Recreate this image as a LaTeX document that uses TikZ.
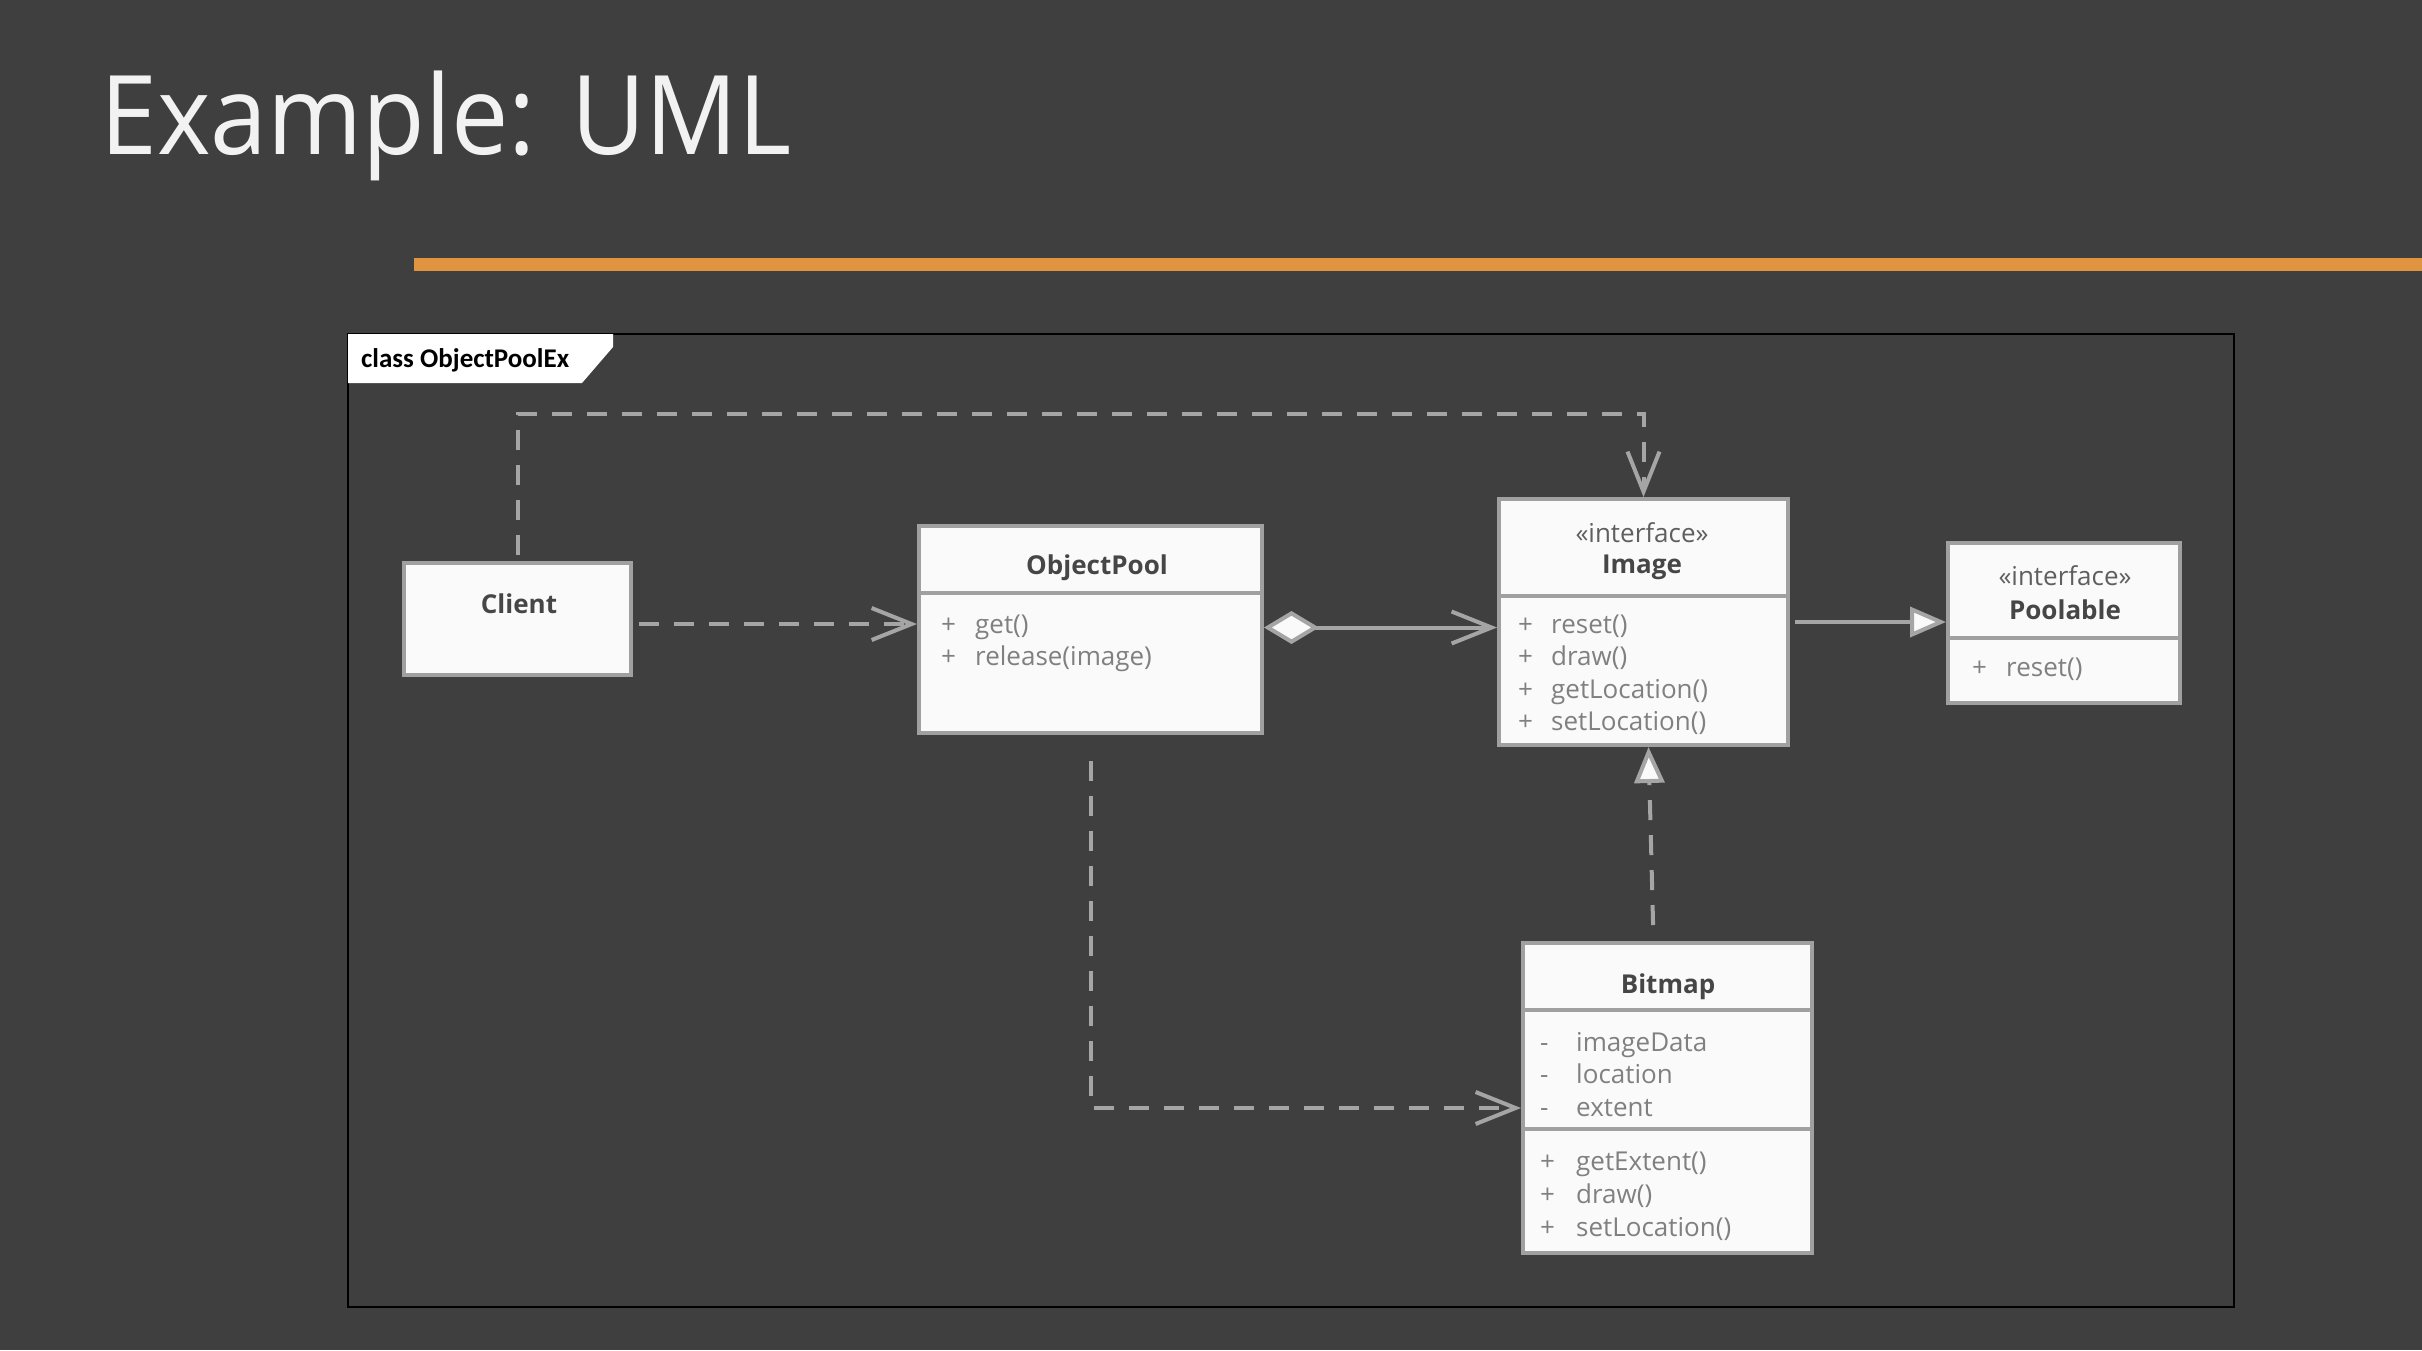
\documentclass[tikz,border=0pt]{standalone}
\usepackage{fontspec}
\setmainfont{Open Sans}
\newfontfamily\tabfont{Carlito}
\newfontfamily\titlefont[FakeStretch=0.93]{Open Sans}
\usetikzlibrary{arrows.meta}
\definecolor{slidebg}{RGB}{63,63,63}
\definecolor{accent}{RGB}{224,148,64}
\definecolor{boxfill}{RGB}{250,250,250}
\definecolor{boxline}{RGB}{160,160,160}
\definecolor{connline}{RGB}{165,165,165}
\definecolor{nametext}{RGB}{70,70,70}
\definecolor{stereotext}{RGB}{95,95,95}
\definecolor{membertext}{RGB}{128,128,128}
\tikzset{
  classbox/.style={draw=boxline, fill=boxfill, line width=4pt, inner sep=0pt, anchor=north west},
  divider/.style={draw=boxline, line width=4pt},
  classname/.style={font=\bfseries\fontsize{26}{30}\selectfont, text=nametext, inner sep=0pt},
  stereo/.style={font=\fontsize{26}{30}\selectfont, text=stereotext, inner sep=0pt},
  member/.style={font=\fontsize{26}{30}\selectfont, text=membertext, inner sep=0pt, anchor=west, text height=20pt, text depth=6pt},
  conn/.style={draw=connline, line width=4pt},
  dep/.style={conn, dash pattern=on 20pt off 15pt, -{Straight Barb[length=40pt,width=32pt]}},
  realize/.style={conn, dash pattern=on 20pt off 15pt, -{Triangle[length=36pt,width=30pt,fill=boxfill]}},
  general/.style={conn, -{Triangle[length=36pt,width=30pt,fill=boxfill]}},
  aggreg/.style={conn, {Diamond[length=55pt,width=33pt,fill=boxfill]}-{Straight Barb[length=40pt,width=32pt]}}
}
\begin{document}
\begin{tikzpicture}[x=1pt,y=-1pt]
	\useasboundingbox (0,0) rectangle (2422,1350);
	\fill[slidebg] (0,0) rectangle (2422,1350);
	% title and accent bar
	\node[anchor=base west, inner sep=0pt, text=white!95!black, font=\titlefont\fontsize{110}{130}\selectfont] (title) at (100,154) {Example: UML};
	\fill[accent] (414,258) rectangle (2422,271);
	% diagram frame
	\draw[black, line width=2pt] (348,334) rectangle (2234,1307);
	\fill[white] (348,334) -- (613,334) -- (613,347) -- (582,383) -- (348,383) -- cycle;
	\node[anchor=west, inner sep=0pt, font=\tabfont\bfseries\fontsize{27}{30}\selectfont] (tab) at (361,360) {class ObjectPoolEx};
	% Client
	\node[classbox, minimum width=227pt, minimum height=112pt] (client) at (402,561) {};
	\node[classname] at (519,604) {Client};
	% ObjectPool
	\node[classbox, minimum width=343pt, minimum height=207pt] (objpool) at (917,524) {};
	\draw[divider] (objpool.west |- 0,593) -- (objpool.east |- 0,593);
	\node[classname] at (1097,568) {ObjectPool};
	\foreach \txt [count=\i from 0] in {get(),release(image)} {
		\node[member] at (941,{626+32*\i}) {+};
		\node[member] at (975,{626+32*\i}) {\txt};
	}
	% Image
	\node[classbox, minimum width=289pt, minimum height=246pt] (image) at (1497,497) {};
	\draw[divider] (image.west |- 0,596) -- (image.east |- 0,596);
	\node[stereo] at (1642,533) {«interface»};
	\node[classname] at (1642,567) {Image};
	\foreach \txt [count=\i from 0] in {reset(),draw(),getLocation(),setLocation()} {
		\node[member] at (1518,{626+32.6*\i}) {+};
		\node[member] at (1551,{626+32.6*\i}) {\txt};
	}
	% Poolable
	\node[classbox, minimum width=232pt, minimum height=160pt] (poolable) at (1946,541) {};
	\draw[divider] (poolable.west |- 0,638) -- (poolable.east |- 0,638);
	\node[stereo] at (2065,576) {«interface»};
	\node[classname] at (2065,610) {Poolable};
	\node[member] at (1972,669) {+};
	\node[member] at (2006,669) {reset()};
	% Bitmap
	\node[classbox, minimum width=289pt, minimum height=310pt] (bitmap) at (1521,941) {};
	\draw[divider] (bitmap.west |- 0,1010) -- (bitmap.east |- 0,1010);
	\draw[divider] (bitmap.west |- 0,1129) -- (bitmap.east |- 0,1129);
	\node[classname] at (1668,987) {Bitmap};
	\foreach \txt [count=\i from 0] in {imageData,location,extent} {
		\node[member] at (1540,{1044+32.5*\i}) {-};
		\node[member] at (1576,{1044+32.5*\i}) {\txt};
	}
	\foreach \txt [count=\i from 0] in {getExtent(),draw(),setLocation()} {
		\node[member] at (1540,{1163+33*\i}) {+};
		\node[member] at (1576,{1163+33*\i}) {\txt};
	}
	% connectors
	\draw[dep, shorten <=6pt] (client.north) |- ([yshift=83pt]image.north) -- (image.north);
	\draw[dep, shorten <=6pt] ([yshift=-5pt]client.east) -- ([yshift=-5pt]client.east -| objpool.west);
	\draw[aggreg] ([yshift=2pt]objpool.east) -- ([yshift=2pt]objpool.east -| image.west);
	\draw[general, shorten <=5pt] (image.east) -- (image.east -| poolable.west);
	\draw[realize, shorten <=16pt] ([xshift=-14pt]bitmap.north) -- ([xshift=5pt]image.south);
	\draw[dep, shorten <=26pt] (objpool.south) |- ([yshift=-10pt]bitmap.west);
\end{tikzpicture}
\end{document}
